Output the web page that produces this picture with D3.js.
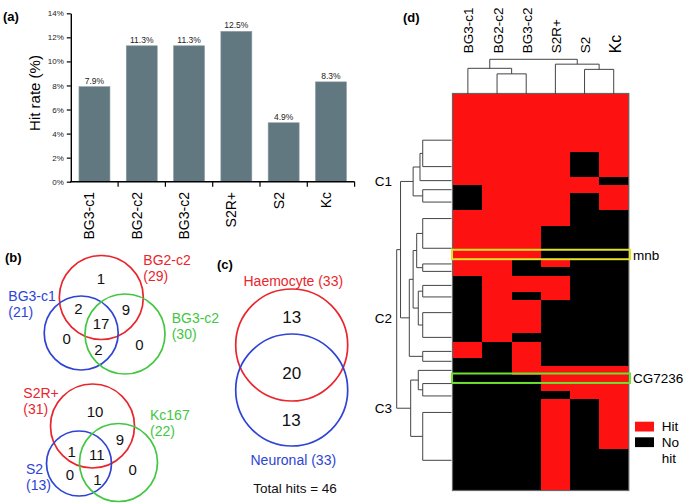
<!DOCTYPE html>
<html><head><meta charset="utf-8">
<script src="https://cdn.jsdelivr.net/npm/d3@7"></script>
<style>body{margin:0;background:#fff}svg{display:block}text{font-family:"Liberation Sans",Arial,Helvetica,sans-serif}</style>
</head><body><svg id="c" width="685" height="504"></svg>
<script>
// ---------- DATA ----------
const cellLines = ["BG3-c1","BG2-c2","BG3-c2","S2R+","S2","Kc"];
const hitRates = [7.9, 11.3, 11.3, 12.5, 4.9, 8.3];
const yTicks = [0,2,4,6,8,10,12,14];

// Venn (b) region order: [A only, A∩B, A∩C, A∩B∩C, B only, B∩C, C only]
const vennTopSets = ["BG2-c2","BG3-c1","BG3-c2"];
const vennTopSizes = [29,21,30];
const vennTopRegions = [1,2,9,17,0,2,0];
const vennBotSets = ["S2R+","S2","Kc167"];
const vennBotSizes = [31,13,22];
const vennBotRegions = [10,1,9,11,0,1,0];
// Venn (c): [A only, A∩B, B only]
const vennCSets = ["Haemocyte","Neuronal"];
const vennCSizes = [33,33];
const vennCRegions = [13,20,13];
const totalHits = 46;

// Heatmap (d): one string per gene row, 1 = hit, columns in cellLines order
const heatRows = [
 "111111","111111","111111","111111","111111","111111","111111",
 "111101","111101","111101",
 "111110",
 "011111",
 "011101","011101",
 "111100","111100",
 "111000","111000","111000","111000",
 "110100",
 "110000",
 "011100","011100",
 "010100",
 "011000","011000","011000","011000",
 "010000",
 "101000","101000",
 "001000",
 "001111",
 "000111","000111",
 "000011",
 "000101","000101","000101","000101","000101","000101",
 "000100","000100","000100","000100","000100"
];
const highlightRows = [19, 34];
const highlightLabels = ["mnb", "CG7236"];
const clusterNames = ["C1","C2","C3"];
// row dendrogram: leaf positions in row units, tree with merge heights (0..1)
const rowLeafPos = [5.6, 8.8, 10.5, 11.6, 13.1, 15.1, 18.7, 20.6, 21.5, 23.2, 24.6, 26.5, 29.5, 31.2, 32.4, 33.5, 35.1, 36.6, 38.6, 44.4];
const rowTree = {h:1, c:[
  {h:0.93, c:[
    {h:0.70, name:0, c:[ {h:0.575, c:[{h:0.525, c:[0,1]}, 2]}, {h:0.525, c:[3,4]} ]},
    {h:0.77, name:1, c:[
      {h:0.70, c:[
        {h:0.635, c:[{h:0.525, c:[5,6]}, {h:0.525, c:[7,8]}]},
        {h:0.606, c:[{h:0.525, c:[9,10]}, {h:0.525, c:[11,12]}]}
      ]},
      {h:0.525, c:[13,14]}
    ]}
  ]},
  {h:0.745, name:2, c:[
    {h:0.606, c:[15, {h:0.525, c:[16,17]}]},
    {h:0.525, c:[18,19]}
  ]}
]};
const colTree = {h:1, c:[ {h:0.74, c:[0, {h:0.58, c:[1,2]}]}, {h:0.86, c:[3, {h:0.71, c:[4,5]}]} ]};

// ---------- DRAW ----------
const svg = d3.select("#c");
const RED = "#e8262c", BLUE = "#2e44d4", GREEN = "#42c742";

function panelLabel(t, x, y){
  svg.append("text").attr("x",x).attr("y",y).attr("font-size",13).attr("font-weight","bold").text(t);
}

// ----- Panel (a) -----
const xA = d3.scaleBand().domain(cellLines).range([70.8, 354.6]).paddingInner(0.345).paddingOuter(0.1725);
const yA = d3.scaleLinear().domain([0,14]).range([181.7, 13.3]);
const gA = svg.append("g");
gA.selectAll("rect").data(hitRates).join("rect")
  .attr("x",(d,i)=>xA(cellLines[i])).attr("y",d=>yA(d))
  .attr("width",xA.bandwidth()).attr("height",d=>yA(0)-yA(d))
  .attr("fill","#617880").attr("stroke","#8b9ca2").attr("stroke-width",0.6);
gA.selectAll("text.val").data(hitRates).join("text").attr("class","val")
  .attr("x",(d,i)=>xA(cellLines[i])+xA.bandwidth()/2).attr("y",d=>yA(d)-3)
  .attr("text-anchor","middle").attr("font-size",8.5).attr("fill","#222")
  .text(d=>d3.format(".1f")(d)+"%");
const yAxis = d3.axisLeft(yA).tickValues(yTicks).tickFormat(d=>d+"%").tickSize(4).tickSizeOuter(0).tickPadding(3);
const gy = gA.append("g").attr("transform","translate(70.8,0)").call(yAxis);
gy.select(".domain").attr("stroke","#000").attr("stroke-width",1.4);
gy.selectAll(".tick line").attr("stroke","#000").attr("stroke-width",1.2);
gy.selectAll(".tick text").attr("font-size",8).attr("fill","#222").attr("font-family",'"Liberation Sans",Arial,sans-serif');
gA.append("line").attr("x1",70.1).attr("x2",xA.range()[1]).attr("y1",yA(0)).attr("y2",yA(0)).attr("stroke","#000").attr("stroke-width",1.4);
const bounds = cellLines.map(c=>xA(c)+xA.bandwidth()+xA.step()*xA.paddingInner()/2);
gA.selectAll("line.xt").data(bounds).join("line").attr("class","xt")
  .attr("x1",d=>d).attr("x2",d=>d).attr("y1",yA(0)).attr("y2",yA(0)+5).attr("stroke","#000").attr("stroke-width",1.2);
gA.selectAll("text.xl").data(cellLines).join("text").attr("class","xl")
  .attr("transform",d=>`translate(${xA(d)+xA.bandwidth()/2},192) rotate(-90)`)
  .attr("text-anchor","end").attr("font-size",14).text(d=>d);
gA.append("text").attr("transform","translate(39.5,93) rotate(-90)").attr("text-anchor","middle")
  .attr("font-size",15).text("Hit rate (%)");
panelLabel("(a)", 3, 21);

// ----- Panel (b) -----
function venn3(sets, sizes, regions, circles, regionPos, labelPos){
  const g = svg.append("g");
  const cols = [RED, BLUE, GREEN];
  circles.forEach((c,i)=>g.append("circle").attr("cx",c[0]).attr("cy",c[1]).attr("r",c[2])
    .attr("fill","none").attr("stroke",cols[i]).attr("stroke-width",1.7));
  regions.forEach((v,i)=>g.append("text").attr("x",regionPos[i][0]).attr("y",regionPos[i][1]).attr("dy","0.35em")
    .attr("text-anchor","middle").attr("font-size",15).attr("fill","#111").text(v));
  sets.forEach((s,i)=>{
    g.append("text").attr("x",labelPos[i][0]).attr("y",labelPos[i][1]).attr("dy","0.35em").attr("font-size",14).attr("fill",cols[i]).text(s);
    g.append("text").attr("x",labelPos[i][0]).attr("y",labelPos[i][1]+16).attr("dy","0.35em").attr("font-size",14).attr("fill",cols[i]).text("("+sizes[i]+")");
  });
}
venn3(vennTopSets, vennTopSizes, vennTopRegions,
  [[101.3,297.5,42],[81.2,333,37],[125,334,40]],
  [[101,278.3],[78.3,309],[126,310],[101,323.3],[66.7,338.3],[98.3,350],[139.3,345]],
  [[143.3,260.5],[8.3,296.5],[171.7,318.5]]);
venn3(vennBotSets, vennBotSizes, vennBotRegions,
  [[92.5,426,42],[79,463.5,32.5],[118.5,462.5,39]],
  [[95,411.7],[71.7,451.7],[120,440],[96.7,455],[70,475],[97.3,480],[132.7,470]],
  [[23.3,393.5],[26,469.5],[150,415.5]]);
panelLabel("(b)", 5, 262);

// ----- Panel (c) -----
const gC = svg.append("g");
gC.append("circle").attr("cx",291.7).attr("cy",345).attr("r",56).attr("fill","none").attr("stroke",RED).attr("stroke-width",1.7);
gC.append("circle").attr("cx",291.7).attr("cy",390).attr("r",56).attr("fill","none").attr("stroke",BLUE).attr("stroke-width",1.7);
[[291.7,316.7],[291.7,373.3],[291.2,420]].forEach((p,i)=>gC.append("text").attr("x",p[0]).attr("y",p[1]).attr("dy","0.35em")
  .attr("text-anchor","middle").attr("font-size",17).attr("fill","#111").text(vennCRegions[i]));
gC.append("text").attr("x",293.3).attr("y",280.7).attr("dy","0.35em").attr("text-anchor","middle").attr("font-size",14).attr("fill",RED).text(vennCSets[0]+" ("+vennCSizes[0]+")");
gC.append("text").attr("x",293.3).attr("y",460).attr("dy","0.35em").attr("text-anchor","middle").attr("font-size",14).attr("fill",BLUE).text(vennCSets[1]+" ("+vennCSizes[1]+")");
gC.append("text").attr("x",295).attr("y",488.3).attr("dy","0.35em").attr("text-anchor","middle").attr("font-size",13.5).attr("fill","#111").text("Total hits = "+totalHits);
panelLabel("(c)", 217, 269);

// ----- Panel (d) -----
const gD = svg.append("g");
const hx = d3.scaleBand().domain(cellLines).range([453.3, 628.3]);
const hy = d3.scaleBand().domain(d3.range(heatRows.length)).range([94, 490]);
const gCells = gD.append("g").attr("shape-rendering","crispEdges");
heatRows.forEach((r,ri)=>{
  cellLines.forEach((c,ci)=>{
    gCells.append("rect").attr("x",hx(c)).attr("y",hy(ri)).attr("width",hx.bandwidth()+0.6).attr("height",hy.bandwidth()+0.6)
      .attr("fill", r[ci]==="1" ? "#fd1111" : "#000");
  });
});
gD.append("rect").attr("x",452.5).attr("y",93.5).attr("width",176.3).attr("height",397).attr("fill","none").attr("stroke","#666").attr("stroke-width",1.2);
const hlCols = ["#e2e22a","#6ee22e"];
highlightRows.forEach((row,i)=>{
  gD.append("rect").attr("x",452).attr("y",hy(row)-1).attr("width",178).attr("height",hy.bandwidth()+1.2)
    .attr("fill","none").attr("stroke",hlCols[i]).attr("stroke-width",2);
  gD.append("text").attr("x",633).attr("y",hy(row)+hy.bandwidth()/2).attr("dy","0.35em").attr("font-size",13.5).text(highlightLabels[i]);
});
// row dendrogram
const rowPos = d3.scaleLinear().domain([0, heatRows.length]).range([94, 490]);
const rowH = d3.scaleLinear().domain([0,1]).range([451.5, 396.7]);
const DC = "#444";
function drawRow(node){
  if (typeof node === "number") return {p: rowPos(rowLeafPos[node]), x: rowH(0)};
  const kids = node.c.map(drawRow);
  const x = rowH(node.h);
  const ps = kids.map(k=>k.p);
  gD.append("line").attr("x1",x).attr("x2",x).attr("y1",d3.min(ps)).attr("y2",d3.max(ps)).attr("stroke",DC).attr("stroke-width",1);
  kids.forEach(k=>gD.append("line").attr("x1",x).attr("x2",k.x).attr("y1",k.p).attr("y2",k.p).attr("stroke",DC).attr("stroke-width",1));
  const p = d3.mean(ps);
  if (node.name !== undefined) gD.append("text").attr("x",392).attr("y",p).attr("dy","0.35em").attr("text-anchor","end").attr("font-size",13.5).text(clusterNames[node.name]);
  return {p, x};
}
drawRow(rowTree);
// column dendrogram
const colH = d3.scaleLinear().domain([0,1]).range([94, 59.3]);
function drawCol(node){
  if (typeof node === "number") return {p: hx(cellLines[node])+hx.bandwidth()/2, y: colH(0)};
  const kids = node.c.map(drawCol);
  const y = colH(node.h);
  const ps = kids.map(k=>k.p);
  gD.append("line").attr("y1",y).attr("y2",y).attr("x1",d3.min(ps)).attr("x2",d3.max(ps)).attr("stroke",DC).attr("stroke-width",1);
  kids.forEach(k=>gD.append("line").attr("y1",y).attr("y2",k.y).attr("x1",k.p).attr("x2",k.p).attr("stroke",DC).attr("stroke-width",1));
  return {p: d3.mean(ps), y};
}
drawCol(colTree);
gD.selectAll("text.cl").data(cellLines).join("text").attr("class","cl")
  .attr("transform",(d,i)=>`translate(${hx(d)+hx.bandwidth()/2+ (d==="Kc"?7:5.5)},53.3) rotate(-90)`)
  .attr("text-anchor","start").attr("font-size",d=>d==="Kc"?16:13.5).text(d=>d);
// legend
const legend = [["#fd1111",["Hit"]],["#000",["No","hit"]]];
legend.forEach((l,i)=>{
  const y0 = 421.7 + i*15.6;
  gD.append("rect").attr("x",635).attr("y",y0).attr("width",19).attr("height",9.8).attr("fill",l[0]);
  l[1].forEach((t,j)=>gD.append("text").attr("x",661.7).attr("y",y0+5+j*16).attr("dy","0.35em").attr("font-size",13.5).text(t));
});
panelLabel("(d)", 403, 22);
</script></body></html>
